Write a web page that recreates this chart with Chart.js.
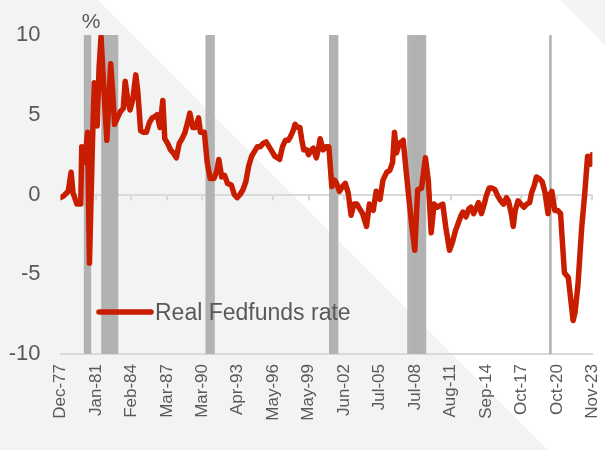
<!DOCTYPE html>
<html><head><meta charset="utf-8">
<script src="https://cdn.jsdelivr.net/npm/chart.js@4/dist/chart.umd.min.js"></script>
<style>html,body{margin:0;padding:0;background:#fff}#wrap{width:605px;height:450px;position:relative}</style>
</head><body><div id="wrap"><canvas id="c" width="605" height="450"></canvas></div>
<script>
const seriesName = 'Real Fedfunds rate';
const unitLabel = '%';
const firstMonth = '1977-12';
const lastMonth = '2023-11';
const tickLabels = ['Dec-77','Jan-81','Feb-84','Mar-87','Mar-90','Apr-93','May-96','May-99','Jun-02','Jul-05','Jul-08','Aug-11','Sep-14','Oct-17','Oct-20','Nov-23'];
const yMin = -10, yMax = 10, yStep = 5;

const pointDates = [
'1977-12','1978-03','1978-08','1978-11','1979-01','1979-05','1979-09','1979-10','1979-12','1980-02',
'1980-04','1980-06','1980-09','1980-11','1981-02','1981-04','1981-06','1981-09','1981-12','1982-04',
'1982-06','1982-08','1982-11','1983-02','1983-05','1983-07','1983-10','1983-12','1984-03','1984-06',
'1984-08','1984-11','1985-02','1985-05','1985-08','1985-11','1986-02','1986-04','1986-07','1986-10',
'1986-12','1987-03','1987-06','1987-09','1987-12','1988-03','1988-06','1988-09','1988-12','1989-02',
'1989-05','1989-08','1989-11','1990-01','1990-05','1990-08','1990-11','1991-03','1991-06','1991-08',
'1991-11','1992-02','1992-05','1992-09','1992-12','1993-03','1993-06','1993-09','1993-12','1994-03',
'1994-06','1994-09','1994-12','1995-03','1995-06','1995-09','1995-12','1996-03','1996-06','1996-09',
'1996-11','1997-02','1997-05','1997-08','1997-10','1998-01','1998-03','1998-06','1998-08','1998-10',
'1998-12','1999-03','1999-05','1999-08','1999-10','2000-01','2000-03','2000-05','2000-08','2000-11',
'2001-02','2001-05','2001-08','2001-10','2002-01','2002-04','2002-07','2002-10','2003-01','2003-04',
'2003-07','2003-10','2004-01','2004-05','2004-08','2004-12','2005-03','2005-07','2005-10','2006-02',
'2006-05','2006-08','2006-10','2006-12','2007-03','2007-07','2007-10','2008-01','2008-04','2008-07',
'2008-10','2009-02','2009-06','2009-09','2009-12','2010-03','2010-06','2010-09','2010-12','2011-03',
'2011-07','2011-10','2012-01','2012-04','2012-07','2012-09','2012-12','2013-03','2013-05','2013-08',
'2013-11','2014-01','2014-04','2014-07','2014-09','2014-12','2015-03','2015-06','2015-09','2015-12',
'2016-03','2016-06','2016-08','2016-11','2017-01','2017-03','2017-06','2017-09','2017-12','2018-03',
'2018-06','2018-08','2018-11','2019-01','2019-04','2019-07','2019-10','2020-01','2020-03','2020-05',
'2020-08','2020-11','2021-02','2021-06','2021-10','2022-01','2022-03','2022-05','2022-08','2022-12',
'2023-03','2023-06','2023-09','2023-11'
];
const pointValues = [
-0.2,-0.1,0.2,1.4,0.1,-0.6,-0.6,3.0,2.0,2.5,
3.9,-4.3,3.0,7.0,4.3,8.0,9.9,6.5,3.4,8.2,
6.5,4.4,4.8,5.2,5.4,7.1,5.8,5.3,6.0,7.5,
6.5,4.0,3.9,3.9,4.5,4.8,4.9,5.0,4.2,5.9,
3.5,3.2,2.8,2.6,2.3,3.2,3.5,3.9,4.6,5.1,
4.2,4.2,4.8,3.9,3.9,2.0,1.0,1.0,1.5,2.2,
1.1,1.2,0.7,0.6,0.0,-0.2,0.0,0.3,0.8,1.8,
2.4,2.7,3.0,3.0,3.2,3.3,3.0,2.7,2.4,2.3,
2.2,3.0,3.4,3.4,3.6,4.0,4.4,4.2,4.2,3.4,
2.8,2.8,2.5,2.8,2.9,2.3,2.8,3.5,2.8,3.0,
3.0,0.5,0.9,0.7,0.2,0.5,0.7,0.1,-1.3,-0.6,
-0.6,-0.9,-1.2,-2.0,-0.6,-1.0,0.2,-0.3,0.9,1.4,
1.5,2.0,3.9,2.6,3.2,3.4,1.5,-0.3,-2.0,-3.5,
0.3,0.4,2.3,0.9,-2.4,-0.6,-0.8,-0.7,-0.6,-2.0,
-3.5,-3.0,-2.3,-1.8,-1.3,-1.1,-1.4,-0.9,-0.8,-1.2,
-0.8,-0.5,-1.2,-0.6,-0.1,0.4,0.4,0.3,-0.1,-0.4,
-0.6,-0.2,-0.4,-1.2,-2.0,-1.0,-0.4,-0.6,-0.8,-0.6,
-0.5,0.1,0.6,1.1,1.0,0.8,0.1,-1.2,0.0,0.2,
-1.0,-1.0,-1.2,-4.9,-5.2,-6.8,-7.9,-7.4,-5.7,-2.0,
0.0,2.4,1.9,2.5
];
const recessionStarts = ['1980-01','1981-07','1990-07','2001-03','2007-12','2020-03'];
const recessionEnds   = ['1980-07','1982-11','1991-03','2001-11','2009-06','2020-04'];

function monthIndex(s){const p=s.split('-');return (+p[0]-+firstMonth.slice(0,4))*12+(+p[1]-+firstMonth.slice(5,7));}
const lastIdx = monthIndex(lastMonth);
const linePoints = pointDates.map((d,i)=>({x:monthIndex(d),y:pointValues[i]}));
const recessionPoints = [];
recessionStarts.forEach((s,i)=>{for(let m=monthIndex(s);m<=monthIndex(recessionEnds[i]);m++) recessionPoints.push({x:m,y:[yMin,yMax]});});

const FONT = "'Liberation Sans', Arial, sans-serif";
const TEXT = '#595959';
const AXIS = '#d9d9d9';
const RED = '#c91d00';

const bgPlugin = {
  id:'bg',
  beforeDraw(chart){
    const ctx=chart.ctx, W=chart.width, H=chart.height;
    ctx.save();
    ctx.fillStyle='#f2f3f3'; ctx.fillRect(0,0,W,H);
    ctx.fillStyle='#ffffff';
    ctx.beginPath(); ctx.moveTo(98,0); ctx.lineTo(560,0); ctx.lineTo(W,W-560); ctx.lineTo(W,H); ctx.lineTo(H+98,H); ctx.closePath(); ctx.fill();
    ctx.restore();
  },
  beforeDatasetsDraw(chart){
    const ctx=chart.ctx, xs=chart.scales.x, ys=chart.scales.y;
    const y0=ys.getPixelForValue(0);
    ctx.save(); ctx.strokeStyle=AXIS; ctx.lineWidth=2;
    xs.ticks.forEach((t,i)=>{const x=Math.round(xs.getPixelForTick(i)); ctx.beginPath(); ctx.moveTo(x,y0); ctx.lineTo(x,y0+6); ctx.stroke();});
    ctx.restore();
  },
  afterDraw(chart){
    const ctx=chart.ctx;
    ctx.save();
    ctx.fillStyle=TEXT; ctx.font='21px '+FONT; ctx.textAlign='center'; ctx.textBaseline='middle';
    ctx.fillText(unitLabel, 91, 22);
    ctx.strokeStyle=RED; ctx.lineWidth=5.5; ctx.lineCap='round';
    ctx.beginPath(); ctx.moveTo(99,312); ctx.lineTo(151,312); ctx.stroke();
    ctx.font='23px '+FONT; ctx.textAlign='left';
    ctx.fillText(chart.data.datasets[0].label, 155, 314);
    ctx.restore();
  }
};

new Chart(document.getElementById('c'), {
  type:'line',
  data:{datasets:[
    {type:'line',label:seriesName,data:linePoints,borderColor:RED,borderWidth:5.5,pointRadius:0,tension:0,borderJoinStyle:'round',borderCapStyle:'round',order:0},
    {type:'bar',label:'Recession',data:recessionPoints,backgroundColor:'#b2b2b2',barPercentage:1,categoryPercentage:1,order:1}
  ]},
  options:{
    responsive:false, animation:false, devicePixelRatio:1,
    layout:{padding:{left:0,right:12.6,top:35,bottom:0}},
    plugins:{legend:{display:false},tooltip:{enabled:false}},
    scales:{
      x:{type:'linear',min:0,max:lastIdx,offset:false,
        afterBuildTicks(s){s.ticks=tickLabels.map((t,k)=>({value:k*lastIdx/(tickLabels.length-1)}));},
        afterFit(s){s.height=96;s.paddingLeft=0;s.paddingRight=0;},
        ticks:{callback:(v,i)=>tickLabels[i],autoSkip:false,maxRotation:90,minRotation:90,padding:10,color:TEXT,font:{family:FONT,size:17}},
        grid:{display:false,drawTicks:false,offset:false},
        border:{display:true,color:AXIS,width:2}
      },
      y:{min:yMin,max:yMax,
        afterFit(s){s.width=60.5;s.paddingTop=0;s.paddingBottom=0;},
        ticks:{stepSize:yStep,padding:20,color:TEXT,font:{family:FONT,size:22}},
        grid:{drawTicks:false,lineWidth:2,color:(c)=>c.tick&&c.tick.value===0?AXIS:'rgba(0,0,0,0)'},
        border:{display:false}
      }
    }
  },
  plugins:[bgPlugin]
});
</script></body></html>
